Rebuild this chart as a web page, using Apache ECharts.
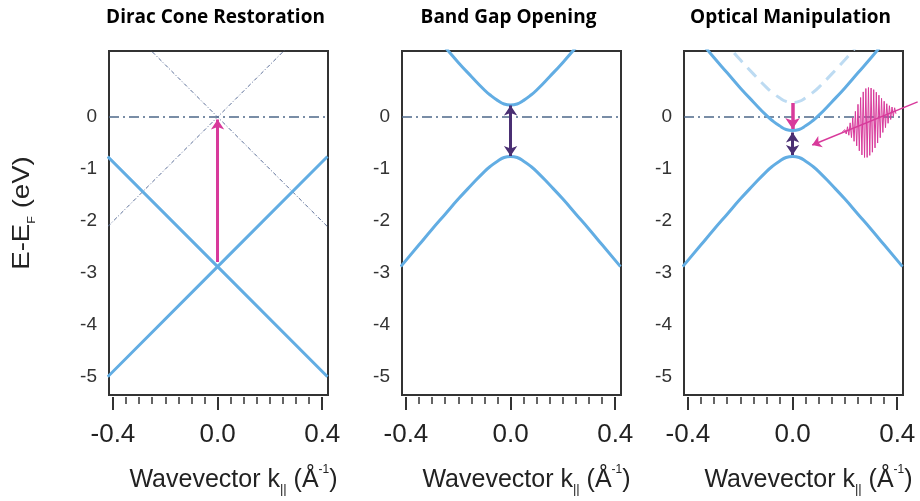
<!DOCTYPE html>
<html>
<head>
<meta charset="utf-8">
<script src="https://cdn.jsdelivr.net/npm/echarts@6/dist/echarts.min.js"></script>
<style>
  html, body { margin: 0; padding: 0; background: #fff; }
  #chart { width: 920px; height: 501px; }
</style>
</head>
<body>
<div id="chart"></div>
<script>
// Panel titles
const panelTitles = ['Dirac Cone Restoration', 'Band Gap Opening', 'Optical Manipulation'];

// Axis ranges and ticks
const kRange = [-0.415, 0.422];
const eRange = [-5.35, 1.27];
const kMajorTicks = [-0.4, 0, 0.4];
const kMinorTicks = [-0.35, -0.3, -0.25, -0.2, -0.15, -0.1, -0.05, 0.05, 0.1, 0.15, 0.2, 0.25, 0.3, 0.35];
const eTicks = [0, -1, -2, -3, -4, -5];

// Fermi level
const fermiK = [-0.415, 0.422];
const fermiE = [0, 0];

// Dirac cone restoration: shifted cone (solid) and reference cone at E_F (dashed)
const diracK = [-0.42, 0, 0.42];
const diracUpE = [-0.76, -2.88, -5.0];
const diracDownE = [-5.0, -2.88, -0.76];
const refConeK = [-0.42, 0.42];
const refConeAE = [2.11, -2.11];
const refConeBE = [-2.11, 2.11];

// Gapped bands
const bandK = [-0.42, -0.35, -0.3, -0.25, -0.2, -0.15, -0.1, -0.075, -0.05, -0.025, 0,
               0.025, 0.05, 0.075, 0.1, 0.15, 0.2, 0.25, 0.3, 0.35, 0.42];
const valenceE = [-2.88, -2.46, -2.16, -1.87, -1.58, -1.31, -1.05, -0.94, -0.85, -0.78, -0.76,
                  -0.78, -0.85, -0.94, -1.05, -1.31, -1.58, -1.87, -2.16, -2.46, -2.88];
const conductionE = [2.36, 1.93, 1.63, 1.34, 1.05, 0.78, 0.52, 0.41, 0.32, 0.25, 0.23,
                     0.25, 0.32, 0.41, 0.52, 0.78, 1.05, 1.34, 1.63, 1.93, 2.36];
// Optical manipulation: original conduction band (dashed) and the lowered one
const conductionOrigE = [2.41, 1.98, 1.68, 1.39, 1.10, 0.83, 0.57, 0.46, 0.37, 0.30, 0.28,
                         0.30, 0.37, 0.46, 0.57, 0.83, 1.10, 1.39, 1.68, 1.98, 2.41];
const conductionLowE = [1.87, 1.44, 1.14, 0.85, 0.56, 0.29, 0.03, -0.08, -0.17, -0.24, -0.26,
                        -0.24, -0.17, -0.08, 0.03, 0.29, 0.56, 0.85, 1.14, 1.44, 1.87];

// Arrows [k0, E0, k1, E1]
const diracShiftArrow = [0, -2.79, 0, -0.05];
const gapArrow = [0, 0.22, 0, -0.75];
const lowerArrow = [0, 0.27, 0, -0.23];
const smallGapArrow = [0, -0.30, 0, -0.73];
const pumpArrow = [0.478, 0.29, 0.075, -0.54];

// Light pulse trace
const pulseK = [0.190, 0.195, 0.200, 0.205, 0.210, 0.215, 0.220, 0.225, 0.230, 0.235,
                0.240, 0.245, 0.250, 0.255, 0.260, 0.265, 0.270, 0.275, 0.280, 0.285,
                0.290, 0.295, 0.300, 0.305, 0.310, 0.315, 0.320, 0.325, 0.330, 0.335,
                0.340, 0.345, 0.350, 0.355, 0.360, 0.365, 0.370, 0.375, 0.380, 0.385,
                0.390, 0.395];
const pulseE = [-0.285, -0.320, -0.244, -0.327, -0.188, -0.351, -0.113, -0.397, -0.013, -0.468,
                0.109, -0.556, 0.244, -0.651, 0.375, -0.731, 0.483, -0.779, 0.548, -0.778,
                0.567, -0.739, 0.557, -0.678, 0.526, -0.595, 0.477, -0.501, 0.420, -0.399,
                0.359, -0.298, 0.303, -0.205, 0.255, -0.121, 0.217, -0.048, 0.192, 0.013,
                0.177, 0.063];

const BLUE = '#62ade3';
const LIGHT_BLUE = '#bddbf2';
const MAGENTA = '#d83a9b';
const PURPLE = '#4a2f73';
const FERMI = '#4e6889';
const GUIDE = '#5c6f98';
const FRAME = '#333333';
const TEXT = '#222222';

const pairs = (ks, es) => ks.map((k, i) => [k, es[i]]);

const gridLefts = [109, 402, 684];
const gridW = 219;
const gridTop = 51;
const gridH = 345;

const grids = gridLefts.map(l => ({
  left: l, top: gridTop, width: gridW, height: gridH,
  show: true, borderColor: FRAME, borderWidth: 2, backgroundColor: 'transparent'
}));

const nameRich = {
  n: { fontSize: 25, fontFamily: 'Liberation Sans', color: TEXT, lineHeight: 32 },
  sub: { fontSize: 13, fontFamily: 'Liberation Sans', color: TEXT, lineHeight: 14, verticalAlign: 'bottom' },
  sup: { fontSize: 12, fontFamily: 'Liberation Sans', color: TEXT, lineHeight: 20, verticalAlign: 'top' }
};

const xAxes = [];
gridLefts.forEach((_, i) => {
  xAxes.push({
    gridIndex: i, type: 'value', min: kRange[0], max: kRange[1], position: 'bottom', offset: 2,
    axisLine: { show: false, onZero: false },
    axisTick: { show: true, customValues: kMajorTicks, length: 13, lineStyle: { color: FRAME, width: 2 } },
    axisLabel: { customValues: kMajorTicks, formatter: v => v.toFixed(1), fontSize: 26,
                 fontFamily: 'Liberation Sans', color: TEXT, margin: 25 },
    splitLine: { show: false },
    name: '{n|Wavevector k}{sub|||}{n| (Å}{sup|-1}{n|)}',
    nameLocation: 'middle', nameGap: 67,
    nameTextStyle: { rich: nameRich, padding: [0, 0, 0, 30] }
  });
});
gridLefts.forEach((_, i) => {
  xAxes.push({
    gridIndex: i, type: 'value', min: kRange[0], max: kRange[1], position: 'bottom', offset: 2,
    axisLine: { show: false, onZero: false },
    axisTick: { show: true, customValues: kMinorTicks, length: 7, lineStyle: { color: FRAME, width: 1.5 } },
    axisLabel: { show: false },
    splitLine: { show: false }
  });
});

const yAxes = gridLefts.map((_, i) => ({
  gridIndex: i, type: 'value', min: eRange[0], max: eRange[1],
  axisLine: { show: false, onZero: false }, axisTick: { show: false }, splitLine: { show: false },
  axisLabel: { customValues: eTicks, fontSize: 19, fontFamily: 'Liberation Sans', color: '#333', margin: 12 }
}));

function curve(i, ks, es, style, extra) {
  return Object.assign({
    type: 'line', xAxisIndex: i, yAxisIndex: i, data: pairs(ks, es),
    showSymbol: false, symbol: 'none', lineStyle: style, silent: true, animation: false
  }, extra || {});
}

function arrow(i, a, color, width, ends, size, extra) {
  return Object.assign({
    type: 'lines', coordinateSystem: 'cartesian2d', xAxisIndex: i, yAxisIndex: i,
    symbol: ends, symbolSize: size,
    lineStyle: { color: color, width: width, opacity: 1, curveness: 0 },
    data: [{ coords: [[a[0], a[1]], [a[2], a[3]]] }],
    silent: true, animation: false, z: 5
  }, extra || {});
}

const fermiStyle = { color: FERMI, width: 1.5, type: [10, 4, 2, 4] };
const bandStyle = { color: BLUE, width: 3 };

const series = [
  // Panel 1
  curve(0, fermiK, fermiE, fermiStyle),
  curve(0, refConeK, refConeAE, { color: GUIDE, width: 1, type: [4, 2, 1, 2] }),
  curve(0, refConeK, refConeBE, { color: GUIDE, width: 1, type: [4, 2, 1, 2] }),
  curve(0, diracK, diracUpE, bandStyle),
  curve(0, diracK, diracDownE, bandStyle),
  arrow(0, diracShiftArrow, MAGENTA, 3, ['none', 'arrow'], 10),
  // Panel 2
  curve(1, fermiK, fermiE, fermiStyle),
  curve(1, bandK, valenceE, bandStyle, { smooth: true }),
  curve(1, bandK, conductionE, bandStyle, { smooth: true }),
  arrow(1, gapArrow, PURPLE, 3, ['arrow', 'arrow'], 10),
  // Panel 3
  curve(2, fermiK, fermiE, fermiStyle),
  curve(2, bandK, conductionOrigE, { color: LIGHT_BLUE, width: 3, type: [12, 8] }, { smooth: true }),
  curve(2, bandK, valenceE, bandStyle, { smooth: true }),
  curve(2, bandK, conductionLowE, bandStyle, { smooth: true }),
  arrow(2, lowerArrow, MAGENTA, 3.5, ['none', 'arrow'], 11),
  arrow(2, smallGapArrow, PURPLE, 3, ['arrow', 'arrow'], 10),
  arrow(2, pumpArrow, MAGENTA, 1.5, ['none', 'arrow'], 9, { clip: false }),
  curve(2, pulseK, pulseE, { color: MAGENTA, width: 1 }, { z: 6 })
];

const titleGraphics = panelTitles.map((t, i) => ({
  type: 'text', x: gridLefts[i] + gridW / 2 - 3, y: 18, silent: true,
  style: { text: t, fontSize: 19, fontWeight: 'bold', fontFamily: 'Open Sans', fill: '#000',
           align: 'center', verticalAlign: 'middle', textAlign: 'center', textVerticalAlign: 'middle' }
}));

const yTitle = {
  type: 'text', x: 22, y: 213, rotation: Math.PI / 2, scaleX: 1.15, silent: true,
  style: {
    text: '{n|E-E}{s|F}{n| (eV)}', align: 'center', verticalAlign: 'middle',
    textAlign: 'center', textVerticalAlign: 'middle',
    rich: {
      n: { fontSize: 24, fontFamily: 'Liberation Sans', fill: TEXT, lineHeight: 30 },
      s: { fontSize: 11, fontFamily: 'Liberation Sans', fill: TEXT, lineHeight: 14, verticalAlign: 'bottom' }
    }
  }
};

const chart = echarts.init(document.getElementById('chart'), null, { renderer: 'canvas' });
chart.setOption({
  animation: false,
  backgroundColor: '#fff',
  grid: grids,
  xAxis: xAxes,
  yAxis: yAxes,
  series: series,
  graphic: titleGraphics.concat([yTitle])
});
</script>
</body>
</html>
